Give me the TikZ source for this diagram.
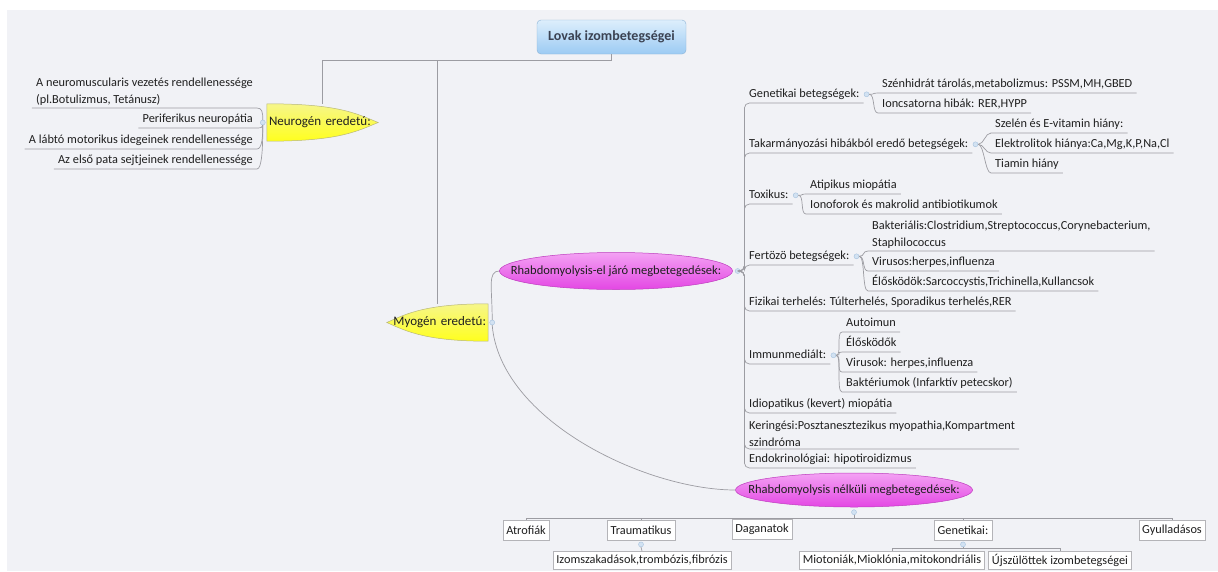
\documentclass[tikz,border=0pt]{standalone}
\usepackage{fontspec}
\setmainfont{Carlito}
\usepackage{xcolor}
\usepackage{tikz}
\usetikzlibrary{shapes.geometric,backgrounds,calc}

\definecolor{bggray}{HTML}{F1F2F6}
\definecolor{linegray}{HTML}{9C9CA2}
\definecolor{txtgray}{HTML}{1F1F1F}
\definecolor{knobfill}{HTML}{D2E2F2}
\definecolor{knobedge}{HTML}{A6C2DE}
\definecolor{rootlight}{HTML}{DDEEFC}
\definecolor{rootdark}{HTML}{9CCBF3}
\definecolor{rootedge}{HTML}{8CB3D6}
\definecolor{roottext}{HTML}{3B4252}
\definecolor{yellight}{HTML}{F6F68A}
\definecolor{yeldeep}{HTML}{FFFF1E}
\definecolor{yeledge}{HTML}{B9B878}
\definecolor{maglight}{HTML}{F3A2F3}
\definecolor{magdeep}{HTML}{E447E4}
\definecolor{magedge}{HTML}{BE3CBE}
\definecolor{boxedge}{HTML}{B4B4B8}

\begin{document}
\begin{tikzpicture}[x=1pt,y=-1pt]
        % Define the styles
        \tikzstyle{conn}=[draw=linegray, line width=0.7pt];
        \tikzstyle{topic}=[anchor=south west, inner xsep=4pt, inner ysep=2.5pt, text height=9pt, text depth=3pt, align=left, text=txtgray, font=\fontsize{12.3}{16.5}\selectfont];
        \tikzstyle{twoline}=[text height=, text depth=];
        \tikzstyle{ltopic}=[topic, anchor=south east];
        \tikzstyle{boxtopic}=[draw=boxedge, fill=white, anchor=north, inner xsep=3.5pt, inner ysep=0pt, minimum height=20pt, text=txtgray, font=\fontsize{12.3}{14}\selectfont];
        \tikzstyle{knob}=[circle, inner sep=0pt, minimum size=5pt, fill=knobfill, draw=knobedge, line width=0.4pt];
        \tikzstyle{rootbox}=[rectangle, rounded corners=4pt, top color=rootlight, bottom color=rootdark, draw=rootedge, minimum width=149pt, minimum height=34pt, text=roottext, font=\fontsize{14}{16}\selectfont\bfseries];
        \tikzstyle{yeltext}=[inner sep=0pt, text=txtgray, font=\fontsize{13}{15}\selectfont];
        \tikzstyle{yelshape}=[top color=yellight, bottom color=yeldeep, draw=yeledge, line width=0.5pt];
        \tikzstyle{rhabdo}=[rectangle, inner sep=0pt, text=txtgray, font=\fontsize{12.5}{14}\selectfont];
        \tikzstyle{rhabdoshape}=[top color=maglight, bottom color=magdeep, draw=magedge, line width=0.5pt];

        % Page size and background
        \useasboundingbox (0,0) rectangle (1218,571);
        \begin{scope}[on background layer]
            \fill[bggray] (7,10) rectangle (1218,571);
        \end{scope}

        % Central topic
        \node[rootbox] (root) at (611.5,37) {Lovak izombetegségei};

        % Neurogen and myogen branches (shapes drawn behind the text)
        \node[yeltext, minimum width=111pt, minimum height=37pt, text width=107pt, align=left] (neu) at (322.5,122.5) {Neurogén eredetú:};
        \node[yeltext, minimum width=101pt, minimum height=37pt, text width=97pt, align=right] (myo) at (437.5,322.5) {Myogén eredetú:};
        \begin{scope}[on background layer]
            \path[yelshape] (neu.north west) .. controls +(72,0) and +(-22,-9) .. (neu.east)
                .. controls +(-22,9) and +(72,0) .. (neu.south west) -- cycle;
            \path[yelshape] (myo.north east) .. controls +(-62,0) and +(20,-9) .. (myo.west)
                .. controls +(20,9) and +(-62,0) .. (myo.south east) -- cycle;
        \end{scope}
        \node[knob] (ndot) at ($(neu.west)+(-4,0)$) {};
        \node[knob] (mdot) at ($(myo.east)+(4,0)$) {};

        % Root connectors
        \draw[conn] (root.south) -- ++(0,6) coordinate (rj) -| (neu.north);
        \draw[conn] (rj) -| (myo.north);

        % Neurogen subtopics
        \node[ltopic, twoline] (nm) at (257,108) {A neuromuscularis vezetés rendellenessége\\(pl.Botulizmus, Tetánusz)};
        \node[ltopic] (pn) at (257,128) {Periferikus neuropátia};
        \node[ltopic] (lm) at (257,149) {A lábtó motorikus idegeinek rendellenessége};
        \node[ltopic] (ep) at (257,169) {Az első pata sejtjeinek rendellenessége};
        \draw[conn] (nm.south west) -- (nm.south east) .. controls +(5,0) and +(0,-8) .. (ndot.north);
        \draw[conn] (pn.south west) -- (pn.south east) .. controls +(4,0) and +(0,2) .. (ndot.south);
        \draw[conn] (lm.south west) -- (lm.south east) .. controls +(5,0) and +(0,12) .. (ndot.south);
        \draw[conn] (ep.south west) -- (ep.south east) .. controls +(5,0) and +(0,22) .. (ndot.south);

        % Rhabdomyolysis topics (ellipses drawn behind the text)
        \node[rhabdo, minimum width=233pt, minimum height=37pt] (rab) at (616,271) {Rhabdomyolysis-el járó megbetegedések:};
        \node[rhabdo, minimum width=237pt, minimum height=34pt] (nrab) at (854,490) {Rhabdomyolysis nélküli megbetegedések:};
        \begin{scope}[on background layer]
            \path[rhabdoshape] (rab.center) ellipse [x radius=116.5, y radius=18.5];
            \path[rhabdoshape] (nrab.center) ellipse [x radius=118.5, y radius=17];
        \end{scope}
        \node[knob] (rdot) at ($(rab.east)+(5,0)$) {};
        \node[knob] (edot) at ($(nrab.south)+(0,5)$) {};
        \draw[conn] (mdot.north) .. controls +(0,-32) and +(-12,0) .. (rab.west);
        \draw[conn] (mdot.south) .. controls +(8,95) and +(-90,0) .. (nrab.west);

        % Tree of the rhabdomyolysis-el branch
        \node[topic] (gen) at (745,103) {Genetikai betegségek:};
        \node[topic] (tak) at (745,153) {Takarmányozási hibákból eredő betegségek:};
        \node[topic] (tox) at (745,204) {Toxikus:};
        \node[topic] (fert) at (745,265) {Fertözö betegségek:};
        \node[topic] (fiz) at (745,311) {Fizikai terhelés: Túlterhelés, Sporadikus terhelés,RER};
        \node[topic] (imm) at (745,364) {Immunmediált:};
        \node[topic] (idio) at (745,413) {Idiopatikus (kevert) miopátia};
        \node[topic, twoline] (ker) at (745,449) {Keringési:Posztanesztezikus myopathia,Kompartment\\szindróma};
        \node[topic] (endo) at (745,468) {Endokrinológiai: hipotiroidizmus};
        \coordinate (rsp) at ($(rdot.east)+(4,0)$);
        \foreach \t in {gen,tak,tox,fert,fiz,imm,idio,ker,endo}
            \draw[conn, rounded corners=5pt] (rdot.east) -- (rsp) |- (\t.south east);

        \node[knob] (gdot) at ($(gen.east)+(3,0)$) {};
        \node[knob] (kdot) at ($(tak.east)+(3,0)$) {};
        \node[knob] (xdot) at ($(tox.east)+(3,0)$) {};
        \node[knob] (fdot) at ($(fert.east)+(3,0)$) {};
        \node[knob] (idot) at ($(imm.east)+(3,0)$) {};

        \node[topic] (szen) at (878,93) {Szénhidrát tárolás,metabolizmus: PSSM,MH,GBED};
        \node[topic] (ion) at (878,113) {Ioncsatorna hibák: RER,HYPP};
        \node[topic] (szel) at (991,133) {Szelén és E-vitamin hiány:};
        \node[topic] (elek) at (991,153) {Elektrolitok hiánya:Ca,Mg,K,P,Na,Cl};
        \node[topic] (tiam) at (991,173) {Tiamin hiány};
        \node[topic] (atip) at (806,194) {Atipikus miopátia};
        \node[topic] (iono) at (806,214) {Ionoforok és makrolid antibiotikumok};
        \node[topic, twoline] (bakt) at (868,251) {Bakteriális:Clostridium,Streptococcus,Corynebacterium,\\Staphilococcus};
        \node[topic] (viru) at (868,271) {Virusos:herpes,influenza};
        \node[topic] (elo) at (868,291) {Élősködök:Sarcoccystis,Trichinella,Kullancsok};
        \node[topic] (auto) at (842,332) {Autoimun};
        \node[topic] (elos) at (842,352) {Élősködők};
        \node[topic] (virk) at (842,372) {Virusok: herpes,influenza};
        \node[topic] (bakm) at (842,392) {Baktériumok (Infarktív petecskor)};
        \foreach \p/\t in {gdot/szen, gdot/ion, kdot/szel, kdot/elek, kdot/tiam, xdot/atip, xdot/iono, fdot/bakt, fdot/viru, fdot/elo, idot/auto, idot/elos, idot/virk, idot/bakm}
            \draw[conn] (\p.east) .. controls +(6,0) and +(-6,0) .. (\t.south west) -- (\t.south east);

        % Branches without rhabdomyolysis
        \node[boxtopic] (atro) at (526,520) {Atrofiák};
        \node[boxtopic] (trau) at (641,520) {Traumatikus};
        \node[boxtopic] (daga) at (762,519) {Daganatok};
        \node[boxtopic] (gene) at (963,520) {Genetikai:};
        \node[boxtopic] (gyul) at (1172,520) {Gyulladásos};
        \coordinate (bj) at ($(edot.south)+(0,3)$);
        \foreach \t in {atro,trau,daga,gene,gyul}
            \draw[conn] (edot.south) -- (bj) -| (\t.north);

        \node[knob] (tdot) at ($(trau.south)+(0,4)$) {};
        \node[knob] (hdot) at ($(gene.south)+(0,4)$) {};
        \node[boxtopic, minimum height=18pt] (izom) at (642,551) {Izomszakadások,trombózis,fibrózis};
        \node[boxtopic, minimum height=18pt] (mio) at (892,551) {Miotoniák,Mioklónia,mitokondriális};
        \node[boxtopic, minimum height=18pt] (ujsz) at (1060,551) {Újszülöttek izombetegségei};
        \draw[conn] (tdot.south) -- (izom.north);
        \coordinate (gj) at ($(hdot.south)+(0,1.5)$);
        \foreach \t in {mio,ujsz}
            \draw[conn] (hdot.south) -- (gj) -| (\t.north);

    \end{tikzpicture}
\end{document}
